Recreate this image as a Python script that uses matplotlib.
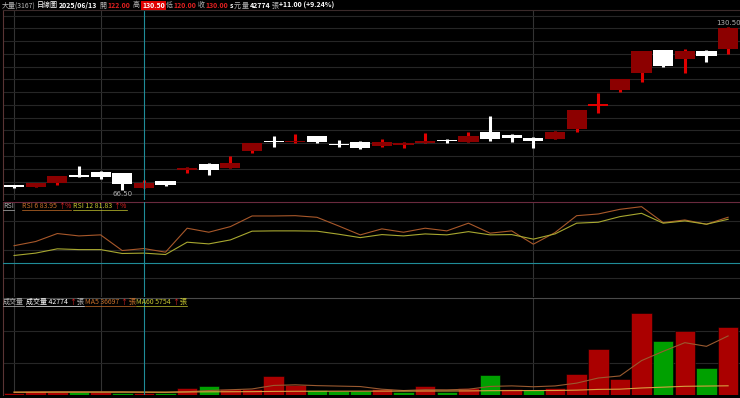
import matplotlib
matplotlib.use("Agg")
from matplotlib import pyplot as plt
from matplotlib.lines import Line2D
import numpy as np

plt.rcParams['font.family'] = ['Noto Sans CJK TC', 'DejaVu Sans']

# daily candles, 3167 大量
opens  = [68.2, 68.0, 69.6, 72.0, 73.9, 73.3, 67.6, 70.3, 74.5, 76.8, 75.4, 82.1,
          86.0, 85.3, 88.0, 84.4, 85.5, 83.9, 84.5, 85.2, 86.0, 85.4, 89.5, 88.2,
          86.9, 86.6, 90.5, 99.6, 105.9, 112.6, 121.5, 118.0, 121.1, 122.0]
highs  = [68.6, 69.3, 72.3, 76.1, 74.0, 73.3, 70.6, 70.3, 75.5, 77.4, 80.0, 85.0,
          87.8, 88.6, 88.0, 86.3, 86.0, 86.6, 85.6, 89.1, 86.5, 89.4, 95.7, 88.6,
          87.6, 89.8, 98.0, 104.6, 110.0, 121.1, 121.5, 122.0, 121.5, 130.5]
lows   = [67.4, 67.8, 68.7, 71.9, 71.0, 66.5, 67.5, 68.3, 73.2, 72.6, 75.4, 81.3,
          83.4, 85.0, 85.0, 83.6, 82.6, 83.4, 83.0, 85.2, 85.2, 85.3, 86.0, 85.6,
          83.0, 86.5, 89.3, 97.0, 105.2, 109.1, 115.0, 112.6, 116.9, 120.0]
closes = [68.0, 69.3, 72.2, 71.9, 71.7, 69.0, 69.3, 68.7, 75.4, 74.5, 77.2, 85.0,
          85.4, 85.6, 85.4, 84.2, 83.0, 85.4, 84.7, 85.5, 85.8, 87.8, 86.6, 87.2,
          86.0, 89.3, 98.0, 99.8, 110.0, 121.1, 115.4, 121.1, 119.0, 130.0]

volume = [1440, 2500, 2070, 2070, 1880, 1440, 1440, 1060, 4380, 5630, 3940, 3940,
          12080, 6260, 3130, 2500, 2500, 3760, 2070, 5820, 2070, 4380, 12520, 3760,
          3130, 4570, 13150, 28600, 10200, 51150, 33600, 40250, 17100, 42774]
vol_red = [1, 1, 1, 0, 1, 0, 1, 0, 1, 0, 1, 1, 1, 1, 0, 0, 0, 1, 0, 1, 0, 1, 0, 1,
           0, 1, 1, 1, 1, 1, 0, 1, 0, 1]
vol_ma5 = [1900, 2000, 2100, 2050, 1990, 1990, 1780, 1580, 2040, 2790, 3290, 3790,
           5990, 6370, 5870, 5580, 5290, 3630, 2790, 3330, 3240, 3620, 5370, 5710,
           5170, 5670, 7430, 10640, 11930, 21530, 27340, 32760, 30460, 36975]
vol_ma60 = [1700, 1720, 1740, 1760, 1780, 1800, 1810, 1820, 1900, 2000, 2050, 2100,
            2250, 2330, 2360, 2380, 2400, 2430, 2440, 2500, 2510, 2550, 2700, 2750,
            2780, 2830, 3050, 3500, 3650, 4400, 4900, 5450, 5600, 5754]

rsi6  = [54.0, 58.4, 66.8, 64.3, 65.4, 48.9, 51.0, 47.2, 72.4, 68.2, 74.1, 85.3,
         85.3, 85.6, 83.9, 74.8, 65.4, 71.7, 68.2, 72.4, 69.6, 77.7, 67.2, 69.6,
         55.6, 67.8, 85.6, 87.4, 92.3, 95.1, 78.3, 81.1, 76.6, 83.95]
rsi12 = [43.7, 46.2, 50.7, 49.9, 49.9, 45.8, 46.2, 44.7, 57.7, 55.9, 60.1, 69.3,
         69.6, 69.6, 69.3, 66.1, 62.5, 65.7, 64.3, 66.4, 65.4, 68.8, 65.4, 65.7,
         60.9, 66.4, 77.7, 78.7, 84.6, 88.1, 77.7, 80.1, 76.6, 81.83]

month_marks = [0, 4, 24]
cursor = 6

W, H = 740, 398
fig = plt.figure(figsize=(W / 100, H / 100), dpi=100, facecolor='black')


def box(top, bottom, left=3, right=740):
    return [left / W, 1 - bottom / H, (right - left) / W, (bottom - top) / H]


ax_p = fig.add_axes(box(10, 200))
ax_r = fig.add_axes(box(202, 297))
ax_v = fig.add_axes(box(298, 395))

x = np.arange(len(closes))
for ax in (ax_p, ax_r, ax_v):
    ax.set_facecolor('black')
    ax.set_xlim(-0.51, 33.55)
    ax.set_xticks([])
    ax.set_yticks([])
    for s in ax.spines.values():
        s.set_visible(False)
    ax.spines['left'].set_visible(True)
    ax.spines['left'].set_color('#5a3434')
    for m in month_marks:
        ax.axvline(m, color='#333333', lw=0.8, zorder=0)
    ax.axvline(cursor, color='#1f8c98', lw=0.8, zorder=5)

# price panel
ax_p.set_ylim(62.77, 137.17)
for lvl in range(65, 140, 5):
    ax_p.axhline(lvl, color='#262626', lw=0.8, zorder=0)

o = np.array(opens); c = np.array(closes)
up = c >= o
bottoms = np.minimum(o, c)
heights = np.maximum(np.abs(c - o), 0.6)
ax_p.vlines(x[up], np.array(lows)[up], np.array(highs)[up], color='#e00000', lw=2.2, zorder=2)
ax_p.vlines(x[~up], np.array(lows)[~up], np.array(highs)[~up], color='white', lw=2.2, zorder=2)
ax_p.bar(x[up], heights[up], bottom=bottoms[up], width=0.93, color='#8c0000', zorder=3)
ax_p.bar(x[~up], heights[~up], bottom=bottoms[~up], width=0.93, color='white', zorder=3)
# the doji on day 27 is drawn all bright red
ax_p.bar([27], [0.6], bottom=[99.6], width=0.93, color='#e00000', zorder=4)

hi_i = int(np.argmax(highs)); lo_i = int(np.argmin(lows))
ax_p.text(hi_i, highs[hi_i] + 0.6, f"{highs[hi_i]:.2f}", color='#b0b0b0', fontsize=5,
          ha='center', va='bottom', family='DejaVu Sans')
ax_p.text(lo_i, lows[lo_i] - 0.4, f"{lows[lo_i]:.2f}", color='#b0b0b0', fontsize=5,
          ha='center', va='top', family='DejaVu Sans')

# RSI panel
ax_r.set_ylim(0, 100)
for lvl in (20, 50, 80):
    ax_r.axhline(lvl, color='#262626', lw=0.8, zorder=0)
ax_r.axhline(36.3, color='#1f8c98', lw=0.8, zorder=5)
ax_r.plot(x, rsi6, color='#a8582a', lw=0.8)
ax_r.plot(x, rsi12, color='#a8a830', lw=0.8)
ax_r.spines['top'].set_visible(True)
ax_r.spines['top'].set_color('#6a2a3e')

# volume panel
ax_v.set_ylim(0, 60720)
for lvl in (20000, 40000):
    ax_v.axhline(lvl, color='#262626', lw=0.8, zorder=0)
ax_v.bar(x, volume, width=0.95, color=['#aa0000' if r else '#00a000' for r in vol_red],
         edgecolor='black', lw=0.4, zorder=2)
ax_v.plot(x, vol_ma5, color='#9a5a30', lw=0.8, zorder=3)
ax_v.plot(x, vol_ma60, color='#d8a040', lw=0.8, zorder=3)
ax_v.spines['top'].set_visible(True)
ax_v.spines['top'].set_color('#4a4a4a')

# header separator
fig.add_artist(Line2D([3 / W, 1], [1 - 10 / H] * 2, color='#3a2a2a', lw=0.8))

fig.canvas.draw()
rend = fig.canvas.get_renderer()
grey = '#b8b8b8'
red = '#e02020'


def row(py, items, fs=5.0):
    # place pieces left to right, never overlapping the previous one
    end = 0
    out = []
    for px, s, color, kw in items:
        px = max(px, end + 1)
        t = fig.text(px / W, 1 - py / H, s, color=color, fontsize=fs, ha='left',
                     va='center', **kw)
        bb = t.get_window_extent(rend)
        end = bb.x1
        out.append(t)
    return out


B = {'fontweight': 'bold'}
row(5.5, [
    (2, "大量(3167)", grey, {}),
    (37, "日線圖", 'white', {}),
    (57, "2025/06/13", 'white', B),
    (99, "開", grey, {}),
    (107, "122.00", red, B),
    (133, "高", grey, {}),
    (142, "130.50", 'white', dict(fontweight='bold', bbox=dict(
        facecolor='#e00000', edgecolor='none', boxstyle='square,pad=0.15'))),
    (164, "低", grey, {}),
    (169, "120.00", red, B),
    (197, "收", grey, {}),
    (203, "130.00", red, B),
    (228, "s", 'white', B),
    (232, "元", grey, {}),
    (237, "量", grey, {}),
    (242, "42774", 'white', B),
    (259, "張", grey, {}),
    (265, "+11.00 (+9.24%)", 'white', B),
])

r_txt = row(206, [
    (3, "RSI", grey, {}),
    (22, f"RSI 6 {rsi6[-1]:.2f}", '#c8702a', {}),
    (57, "↑%", red, {}),
    (73, f"RSI 12 {rsi12[-1]:.2f}", '#c8c830', {}),
    (111, "↑%", red, {}),
])
v_txt = row(302, [
    (3, "成交量", grey, {}),
    (26, f"成交量 {volume[-1]}", 'white', {}),
    (60, "↑", red, {}),
    (63, "張", grey, {}),
    (77, "MA5 36697", '#c8702a', {}),
    (112, "↑", red, {}),
    (115, "張", '#c8702a', {}),
    (127, f"MA60 {vol_ma60[-1]}", '#c8c830', {}),
    (162, "↑", red, {}),
    (165, "張", '#c8c830', {}),
])

# underline the legend groups
for grp in ([r_txt[0]], r_txt[1:3], r_txt[3:5], [v_txt[0]], v_txt[1:4], v_txt[4:7], v_txt[7:10]):
    x0 = grp[0].get_window_extent(rend).x0
    x1 = grp[-1].get_window_extent(rend).x1
    y0 = grp[0].get_window_extent(rend).y0 + 0.5
    fig.add_artist(Line2D([x0 / W, x1 / W], [y0 / H, y0 / H],
                          color=grp[0].get_color(), lw=0.5))

fig.savefig('out.png', dpi=100, facecolor='black')
